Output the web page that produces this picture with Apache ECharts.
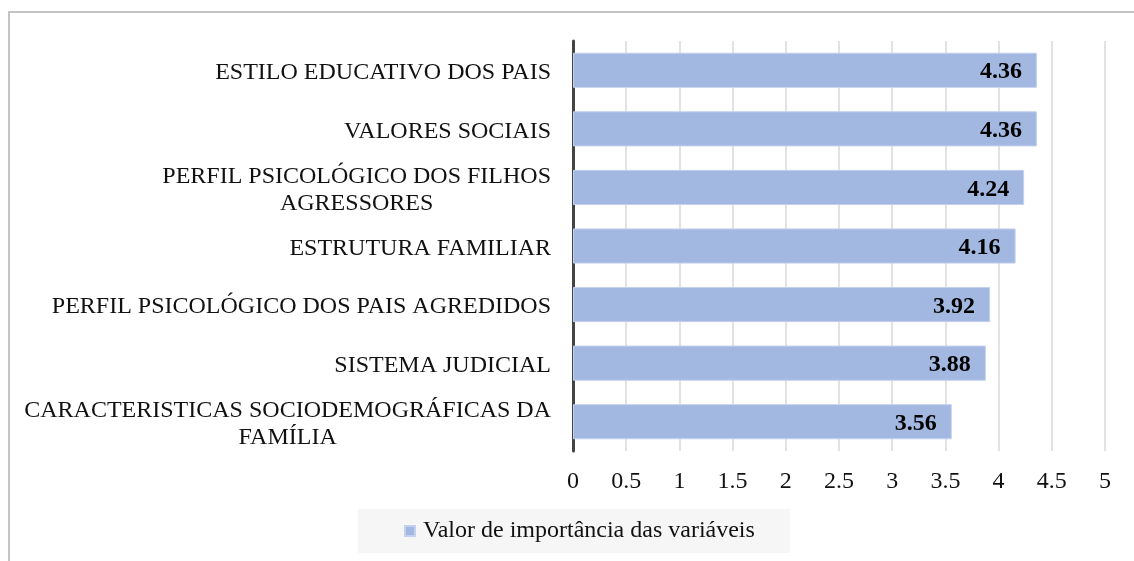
<!DOCTYPE html>
<html>
<head>
<meta charset="utf-8">
<script src="https://cdn.jsdelivr.net/npm/echarts@6/dist/echarts.min.js"></script>
<style>
  html, body { margin: 0; padding: 0; background: #fff; }
  #chart { width: 1134px; height: 561px; }
</style>
</head>
<body>
<div id="chart"></div>
<script>
// categorias (de baixo para cima, como no eixo do ECharts)
const categorias = [
  'CARACTERISTICAS SOCIODEMOGRÁFICAS DA\nFAMÍLIA',
  'SISTEMA JUDICIAL',
  'PERFIL PSICOLÓGICO DOS PAIS AGREDIDOS',
  'ESTRUTURA FAMILIAR',
  'PERFIL PSICOLÓGICO DOS FILHOS\nAGRESSORES',
  'VALORES SOCIAIS',
  'ESTILO EDUCATIVO DOS PAIS'
];
const valores = [3.56, 3.88, 3.92, 4.16, 4.24, 4.36, 4.36];
const nomeSerie = 'Valor de importância das variáveis';

const fonte = '"Liberation Serif", "Times New Roman", serif';
const corBarra = '#a2b8e1';

const chart = echarts.init(document.getElementById('chart'));
chart.setOption({
  animation: false,
  textStyle: { fontFamily: fonte },
  graphic: [
    {
      type: 'rect',
      shape: { x: 9, y: 12, width: 1300, height: 700 },
      style: { fill: 'none', stroke: '#c4c4c4', lineWidth: 2 },
      silent: true
    }
  ],
  grid: { left: 573, right: 29, top: 41, bottom: 110 },
  xAxis: {
    type: 'value',
    min: 0,
    max: 5,
    interval: 0.5,
    axisLine: { show: false },
    axisTick: { show: false },
    splitLine: { lineStyle: { color: '#d9d9d9', width: 1.5 } },
    axisLabel: { color: '#111', fontSize: 24, fontFamily: fonte, margin: 19 }
  },
  yAxis: {
    type: 'category',
    data: categorias,
    axisLine: { lineStyle: { color: '#444', width: 3 } },
    axisTick: { show: false },
    axisLabel: {
      color: '#111',
      fontSize: 24,
      fontFamily: fonte,
      margin: 22,
      lineHeight: 27,
      padding: [5, 0, 0, 0],
      formatter: v => v.split('\n').map(s => '{c|' + s + '}').join('\n'),
      rich: { c: { align: 'center', fontSize: 24, fontFamily: fonte, color: '#111', lineHeight: 27 } }
    }
  },
  legend: {
    bottom: 8,
    left: 358,
    data: [nomeSerie],
    icon: 'rect',
    itemWidth: 10,
    itemHeight: 10,
    itemGap: 6,
    backgroundColor: '#f6f6f6',
    padding: [10, 35, 10, 46],
    textStyle: { fontSize: 24, fontFamily: fonte, color: '#111', padding: [2, 0, 0, 3] }
  },
  series: [
    {
      name: nomeSerie,
      type: 'bar',
      data: valores,
      barCategoryGap: '40%',
      itemStyle: { color: corBarra, borderColor: '#c3d1ee', borderWidth: 1 },
      label: {
        show: true,
        position: 'insideRight',
        distance: 15,
        offset: [0, 2],
        color: '#000',
        fontWeight: 'bold',
        fontSize: 24,
        fontFamily: fonte,
        formatter: p => p.value.toFixed(2)
      }
    }
  ]
});
</script>
</body>
</html>
